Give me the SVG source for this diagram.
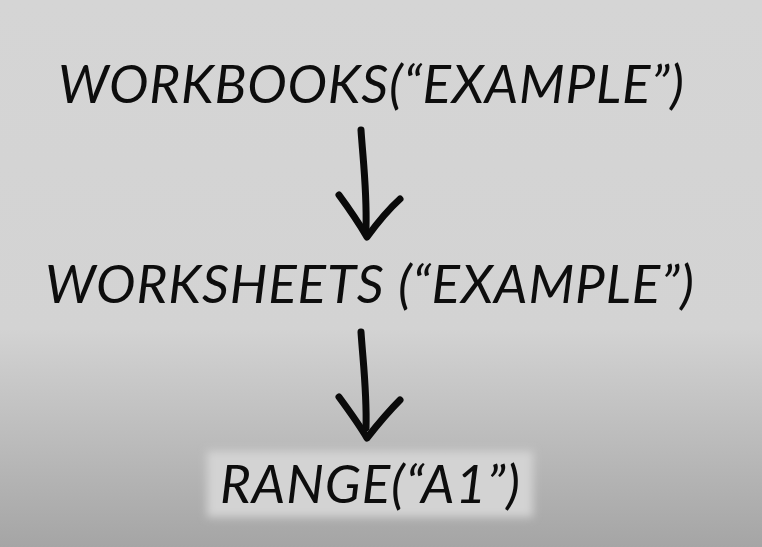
<svg xmlns="http://www.w3.org/2000/svg" width="762" height="547" viewBox="0 0 762 547">
<defs>
<linearGradient id="bg" x1="0" y1="0" x2="0" y2="1">
<stop offset="0" stop-color="#d5d5d5"/>
<stop offset="0.6" stop-color="#d3d3d3"/>
<stop offset="1" stop-color="#a5a5a5"/>
</linearGradient>
<filter id="blur" x="-10%" y="-30%" width="120%" height="160%"><feGaussianBlur stdDeviation="4"/></filter>
<style>
.t{font-family:Lato,"Noto Sans",sans-serif;font-style:italic;font-weight:400;font-size:53px;fill:#0d0d0d}
.a{fill:none;stroke:#0a0a0a;stroke-width:7;stroke-linecap:round;stroke-linejoin:round}
</style>
</defs>
<rect width="762" height="547" fill="url(#bg)"/>
<g id="node-workbooks"><text class="t" x="58" y="103" textLength="626" lengthAdjust="spacing">WORKBOOKS(“EXAMPLE”)</text></g>
<g id="node-worksheets"><text class="t" x="45" y="303" textLength="649" lengthAdjust="spacing">WORKSHEETS (“EXAMPLE”)</text></g>
<g id="node-range">
<rect x="207" y="451" width="326" height="66" fill="#d3d3d3" filter="url(#blur)"/>
<text class="t" x="220" y="503" textLength="300" lengthAdjust="spacing">RANGE(“A1”)</text>
</g>
<g id="connectors">
<path class="a" d="M361 130 C363 160 367 190 366 228"/>
<path class="a" d="M339 195 C350 210 360 225 367 237 C378 222 390 208 400 199"/>
<path class="a" d="M361 332 C363 362 367 392 366 428"/>
<path class="a" d="M339 397 C350 412 360 426 367 438 C378 424 390 410 400 400"/>
</g>
</svg>
